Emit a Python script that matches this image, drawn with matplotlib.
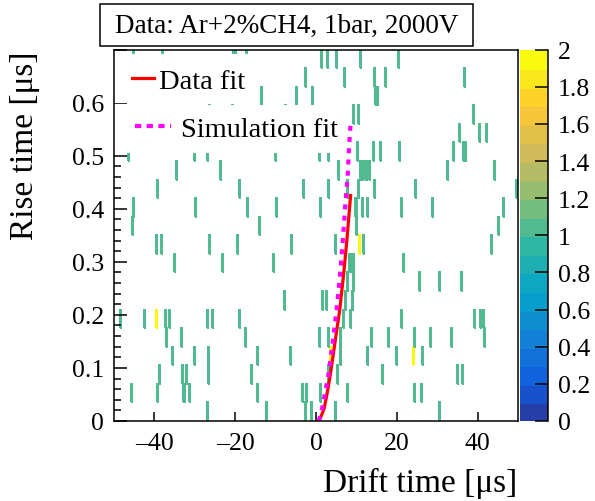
import numpy as np
import matplotlib
matplotlib.use("Agg")
import matplotlib.pyplot as plt
from matplotlib.colors import LinearSegmentedColormap, ListedColormap, Normalize
from matplotlib.patches import Rectangle
from matplotlib.lines import Line2D
from matplotlib.ticker import MultipleLocator, FixedLocator

plt.rcParams['font.family'] = ['Liberation Serif', 'DejaVu Serif']

# ─── Data ─────────────────────────────────────────────────
# drift times [us] of the filled cells, one list per rise-time bin (0.035 us wide)
# a value listed twice is a cell with 2 entries
drift_by_row = [
    [-26.9, -12.5, -2.6, -1.2, 4.8, 30.7],
    [-45.6, -39.1, -33.0, -32.6, -31.3, -14.4, -3.5, -2.5, 1.2, 7.9, 24.3, 26.2],
    [-38.6, -33.2, -32.1, -26.6, -15.9, 3.0, 5.3, 16.4, 35.2, 36.4],
    [-35.7, -30.1, -26.6, -14.4, -6.4, 3.6, 3.6, 6.1, 12.7, 19.8, 24.0, 24.0, 26.4],
    [-37.2, -33.3, -17.4, 0.9, 3.2, 6.1, 13.6, 17.9, 24.3, 28.3, 33.6, 41.6],
    [-48.3, -42.3, -39.3, -39.3, -37.5, -36.4, -26.9, -25.7, -18.8, 6.9, 8.6, 21.2,
     39.2, 40.6, 41.4],
    [-8.0, 1.7, 2.6, 7.3, 9.2],
    [7.8, 9.3, 25.5, 30.7, 36.0],
    [-35.1, -23.1, -10.7, 8.4, 8.9, 9.4, 21.6],
    [-39.3, -38.1, -26.5, -19.4, -6.1, 4.8, 10.8, 10.8, 11.8, 43.3],
    [-45.5, -14.0, 10.1, 45.2],
    [-45.1, -29.9, -16.8, -10.0, 1.2, 9.8, 10.2, 11.5, 12.6, 21.0, 28.8, 46.4],
    [-39.2, -18.8, -3.2, 3.2, 7.8, 10.5, 14.4, 24.7, 49.6],
    [-34.7, -23.7, 5.6, 11.1, 11.7, 12.4, 13.1, 32.6, 44.2],
    [-46.3, -30.2, -27.0, -10.2, 0.9, 3.0, 10.4, 14.0, 15.8, 20.7, 34.0, 36.7, 37.0],
    [35.5, 40.4, 42.1],
    [-26.4, -20.7, -7.6, 9.3, 10.6, 38.8],
    [-13.4, -5.0, -0.8, 14.5, 15.0],
    [-2.6, 7.1, 14.4, 17.1, 36.8],
    [-45.2, -37.8, -20.4, -19.8, -17.1, 1.3, 2.8, 5.2, 11.2, 20.4],
]

data_fit_drift = [0.55, 1.0, 2.0, 2.8, 3.5, 4.7, 5.9, 6.8, 7.6, 8.6]
data_fit_rise = [0.0, 0.004, 0.023, 0.054, 0.085, 0.148, 0.211, 0.274, 0.337, 0.428]

sim_fit_drift = [0.57, 1.16, 1.98, 3.05, 4.13, 5.12, 5.94, 6.6, 7.18, 7.84, 8.25, 8.59]
sim_fit_rise = [0.0, 0.010, 0.042, 0.085, 0.148, 0.211, 0.274, 0.337, 0.400, 0.462,
                0.525, 0.563]

x_edges = np.linspace(-50, 50, 401)
y_edges = np.linspace(0, 0.7, 21)

# ─── ROOT kBird palette, 20 contour colours ──────────────
stops = [0.0, 0.125, 0.25, 0.375, 0.5, 0.625, 0.75, 0.875, 1.0]
red = [0.2082, 0.0592, 0.0780, 0.0232, 0.1802, 0.5301, 0.8186, 0.9956, 0.9764]
green = [0.1664, 0.3599, 0.5041, 0.6419, 0.7178, 0.7492, 0.7328, 0.7862, 0.9832]
blue = [0.5293, 0.8684, 0.8385, 0.7914, 0.6425, 0.4662, 0.3499, 0.1968, 0.0539]
bird = LinearSegmentedColormap.from_list(
    'bird', list(zip(stops, zip(red, green, blue))), N=255)
idx = np.floor((np.arange(20) + 0.99) * 255 / 20) / 254
cmap = ListedColormap(bird(np.clip(idx, 0, 1)))

drift = np.concatenate(drift_by_row)
centres = 0.5 * (y_edges[:-1] + y_edges[1:])
rise = np.concatenate([np.full(len(r), c) for r, c in zip(drift_by_row, centres)])
counts, _, _ = np.histogram2d(drift, rise, bins=[x_edges, y_edges])
counts = np.ma.masked_equal(counts, 0)

# ─── Figure ──────────────────────────────────────────────
W, H = 595, 502
fig = plt.figure(figsize=(W / 100, H / 100), dpi=100)
ax = fig.add_axes([114 / W, 1 - 422 / H, 404 / W, 371.4 / H])

mesh = ax.pcolormesh(x_edges, y_edges, counts.T, cmap=cmap,
                     norm=Normalize(0, 2), shading='flat', zorder=1,
                     edgecolors='face', linewidth=0.15)

# white legend panels (as in the ROOT canvas)
ax.add_patch(Rectangle((0, 0.856), 0.349, 0.132, transform=ax.transAxes,
                       facecolor='white', edgecolor='none', zorder=2))
ax.add_patch(Rectangle((0, 0.722), 0.559, 0.129, transform=ax.transAxes,
                       facecolor='white', edgecolor='none', zorder=2))

ax.plot(data_fit_drift, data_fit_rise, color='#ff0000', lw=2.3, zorder=4,
        solid_capstyle='butt')
ax.plot(sim_fit_drift, sim_fit_rise, color='#ff00ff', lw=3.0, zorder=5,
        linestyle=(0, (1.2, 1.5)))

ax.set_xlim(-50, 50)
ax.set_ylim(0, 0.7)
ax.xaxis.set_major_locator(FixedLocator([-40, -20, 0, 20, 40]))
ax.yaxis.set_major_locator(FixedLocator([0, 0.1, 0.2, 0.3, 0.4, 0.5, 0.6, 0.7]))
ax.yaxis.set_minor_locator(MultipleLocator(0.02))
ax.set_yticklabels(['0', '0.1', '0.2', '0.3', '0.4', '0.5', '0.6', ''])
ax.set_xticklabels(['\u201340', '\u201320', '0', '20', '40'])
ax.tick_params(axis='both', which='both', direction='in', top=False, right=False,
               labelsize=18.5, width=1.1, colors='black')
ax.tick_params(axis='y', which='major', length=9.5, pad=7)
ax.tick_params(axis='y', which='minor', length=5)
ax.tick_params(axis='x', which='major', length=6.5, pad=8)
for s in ax.spines.values():
    s.set_linewidth(1.1)
    s.set_zorder(6)

h1 = Line2D([], [], color='#ff0000', lw=2.3)
leg1 = ax.legend([h1], ['Data fit'], loc='center left', bbox_to_anchor=(0.045, 0.915),
                 frameon=False, fontsize=20.5, handlelength=0.78, handletextpad=0.17,
                 borderpad=0, borderaxespad=0)
ax.add_artist(leg1)
h2 = Line2D([], [], color='#ff00ff', lw=3.0, linestyle=(0, (1.5, 1.3)))
leg2 = ax.legend([h2], ['Simulation fit'], loc='center left',
                 bbox_to_anchor=(0.052, 0.786), frameon=False, fontsize=20.5,
                 handlelength=1.25, handletextpad=0.36, borderpad=0, borderaxespad=0)

# axis titles (ROOT places them at the axis ends)
fig.text(25 / W, 1 - 52 / H, 'Rise time [\u03bcs]', rotation=90, ha='center',
         va='top', fontsize=24)
fig.text(517 / W, 1 - 499 / H, 'Drift time [\u03bcs]', ha='right', va='bottom',
         fontsize=24)

# colour palette axis
cax = fig.add_axes([520 / W, 1 - 422 / H, 28 / W, 371.4 / H])
cb = fig.colorbar(mesh, cax=cax, ticks=np.arange(0, 2.01, 0.2))
cb.ax.set_yticklabels([f'{v:g}' for v in np.round(np.arange(0, 2.01, 0.2), 1)])
cb.outline.set_visible(False)
cb.solids.set_edgecolor('face')
cax.tick_params(direction='in', length=9.5, width=1.1, labelsize=18.5, pad=7)
cax.plot([1, 1], [0, 1], transform=cax.transAxes, color='black', lw=1.1,
         clip_on=False)

# title box
fig.patches.append(Rectangle((100 / W, 1 - 47 / H), 373 / W, 42 / H,
                             transform=fig.transFigure, facecolor='white',
                             edgecolor='black', lw=1.1))
fig.text(286.5 / W, 1 - 26 / H, 'Data: Ar+2%CH4, 1bar, 2000V', fontsize=19.5,
         ha='center', va='center')

fig.savefig('out.png', dpi=100)
